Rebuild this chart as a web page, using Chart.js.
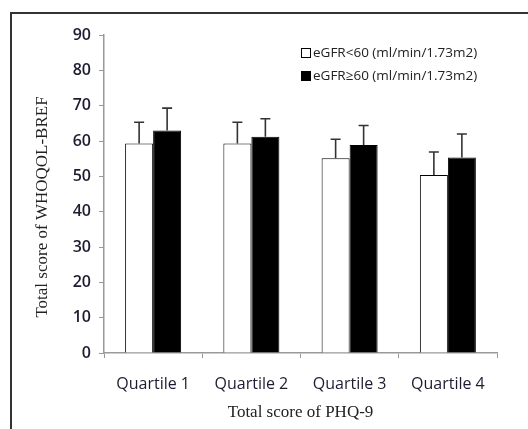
<!DOCTYPE html>
<html>
<head>
<meta charset="utf-8">
<script src="https://cdn.jsdelivr.net/npm/chart.js@4/dist/chart.umd.min.js"></script>
<style>
  html, body { margin: 0; padding: 0; background: #fff; }
  #wrap { width: 528px; height: 429px; position: relative; }
</style>
</head>
<body>
<div id="wrap"><canvas id="chart" width="528" height="429"></canvas></div>
<script>
// Data
const categories = ['Quartile 1', 'Quartile 2', 'Quartile 3', 'Quartile 4'];
const lowEgfr = [59.3, 59.3, 55.1, 50.4];
const lowEgfrErr = [65.3, 65.3, 60.5, 56.9];   // top of error bar
const highEgfr = [63.0, 61.2, 58.9, 55.3];
const highEgfrErr = [69.3, 66.3, 64.4, 62.0];
const yTicks = [0, 10, 20, 30, 40, 50, 60, 70, 80, 90];

const sansFamily = '"Open Sans", "DejaVu Sans", sans-serif';
const titleFont = '17px "Liberation Serif", "DejaVu Serif", serif';

// Upward error bars with caps
const errorBars = {
    id: 'errorBars',
    afterDatasetsDraw(chart) {
        const ctx = chart.ctx;
        const y = chart.scales.y;
        ctx.save();
        ctx.strokeStyle = '#333';
        ctx.lineWidth = 1.6;
        chart.data.datasets.forEach((ds, di) => {
            const meta = chart.getDatasetMeta(di);
            meta.data.forEach((bar, i) => {
                const top = y.getPixelForValue(ds.errTop[i]);
                ctx.beginPath();
                ctx.moveTo(bar.x, bar.y);
                ctx.lineTo(bar.x, top);
                ctx.moveTo(bar.x - 5, top);
                ctx.lineTo(bar.x + 5, top);
                ctx.stroke();
            });
        });
        ctx.restore();
    }
};

// Frame, axis titles and legend
const decor = {
    id: 'decor',
    afterDraw(chart) {
        const ctx = chart.ctx;
        const area = chart.chartArea;
        ctx.save();
        // frame (top + left visible)
        ctx.strokeStyle = '#333';
        ctx.lineWidth = 2;
        ctx.beginPath();
        ctx.moveTo(11, 429);
        ctx.lineTo(11, 13);
        ctx.lineTo(528, 13);
        ctx.stroke();

        // axis titles
        ctx.fillStyle = '#222';
        ctx.font = titleFont;
        ctx.textAlign = 'center';
        ctx.textBaseline = 'middle';
        ctx.fillText('Total score of PHQ-9', (area.left + area.right) / 2, 413);
        ctx.save();
        ctx.translate(43, 207);
        ctx.rotate(-Math.PI / 2);
        ctx.fillText('Total score of WHOQOL-BREF', 0, 0);
        ctx.restore();

        // legend
        ctx.font = '13.5px ' + sansFamily;
        ctx.textAlign = 'left';
        chart.data.datasets.forEach((ds, i) => {
            const cy = 53 + i * 23;
            ctx.fillStyle = ds.backgroundColor;
            ctx.fillRect(301, cy - 5, 10, 10);
            ctx.strokeStyle = '#000';
            ctx.lineWidth = 1;
            ctx.strokeRect(301.5, cy - 4.5, 9, 9);
            ctx.fillStyle = '#222';
            ctx.fillText(ds.label, 313, cy);
        });
        ctx.restore();
    }
};

new Chart(document.getElementById('chart'), {
    type: 'bar',
    data: {
        labels: categories,
        datasets: [
            {
                label: 'eGFR<60 (ml/min/1.73m2)',
                data: lowEgfr,
                errTop: lowEgfrErr,
                backgroundColor: '#ffffff',
                borderColor: '#000',
                borderWidth: 1
            },
            {
                label: 'eGFR\u226560 (ml/min/1.73m2)',
                data: highEgfr,
                errTop: highEgfrErr,
                backgroundColor: '#000000',
                borderColor: '#000',
                borderWidth: 1
            }
        ]
    },
    options: {
        responsive: false,
        animation: false,
        layout: { padding: { left: 12, top: 35, right: 31, bottom: 0 } },
        categoryPercentage: 0.57,
        barPercentage: 1.0,
        plugins: {
            legend: { display: false },
            tooltip: { enabled: false }
        },
        scales: {
            x: {
                grid: { display: true, drawOnChartArea: false, tickLength: 5, color: '#999', offset: true },
                border: { color: '#999', width: 1.5 },
                ticks: { color: '#1c1c30', font: { family: sansFamily, size: 16 }, padding: 17 },
                afterFit(scale) { scale.height = 76; }
            },
            y: {
                min: 0,
                max: 90,
                afterBuildTicks(scale) { scale.ticks = yTicks.map(v => ({ value: v })); },
                grid: { display: true, drawOnChartArea: false, tickLength: 5, color: '#999' },
                border: { color: '#999', width: 1.5 },
                ticks: { color: '#1c1c30', font: { family: sansFamily, size: 16, weight: '600' }, padding: 8 },
                afterFit(scale) { scale.width = 92; }
            }
        }
    },
    plugins: [errorBars, decor]
});
</script>
</body>
</html>
